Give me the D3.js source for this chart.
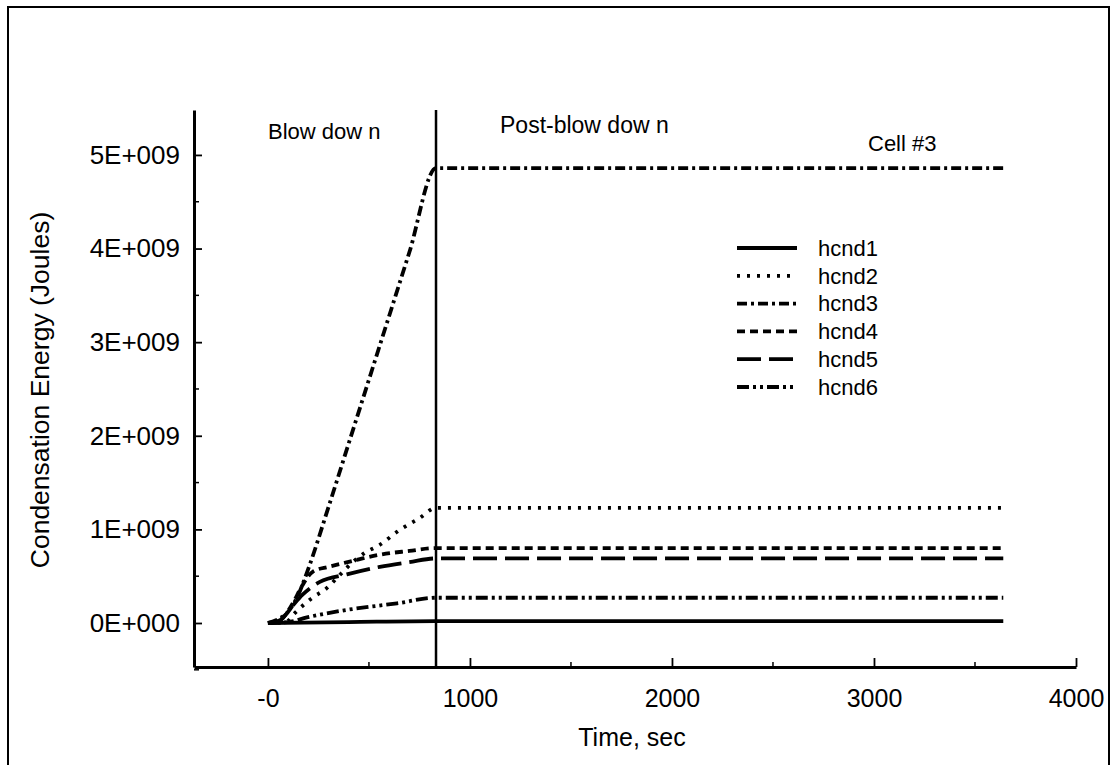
<!DOCTYPE html>
<html>
<head>
<meta charset="utf-8">
<script src="https://cdn.jsdelivr.net/npm/d3@7"></script>
<style>
  body { margin: 0; background: #fff; }
  text { font-family: "Liberation Sans", Arial, sans-serif; fill: #000; }
</style>
</head>
<body>
<script>
// time points (sec) and condensation energy (1E+009 Joules) per series
var seriesNames = ["hcnd1", "hcnd2", "hcnd3", "hcnd4", "hcnd5", "hcnd6"];
var hcnd1 = [[0, 0], [400, 0.01], [832, 0.02], [3640, 0.02]];
var hcnd2 = [[0, 0], [90, 0.01], [130, 0.1], [180, 0.2], [220, 0.27], [290, 0.37], [350, 0.5],
             [420, 0.65], [480, 0.75], [550, 0.83], [650, 0.99], [750, 1.12], [832, 1.23], [3640, 1.23]];
var hcnd3 = [[0, 0], [50, 0.04], [100, 0.12], [150, 0.3], [200, 0.58], [300, 1.24], [400, 1.92],
             [500, 2.6], [600, 3.28], [700, 3.96], [832, 4.86], [3640, 4.86]];
var hcnd4 = [[0, 0], [60, 0.03], [120, 0.2], [170, 0.4], [223, 0.55], [300, 0.6], [356, 0.63],
             [450, 0.68], [554, 0.73], [700, 0.77], [832, 0.8], [3640, 0.8]];
var hcnd5 = [[0, 0], [60, 0.03], [120, 0.18], [170, 0.3], [220, 0.39], [257, 0.44], [391, 0.52],
             [554, 0.6], [700, 0.65], [832, 0.69], [3640, 0.69]];
var hcnd6 = [[0, 0], [100, 0.01], [193, 0.06], [391, 0.14], [639, 0.21], [832, 0.27], [3640, 0.27]];
var blowdownEnd = 832;
var xTicks = [0, 1000, 2000, 3000, 4000];
var xTickLabels = ["-0", "1000", "2000", "3000", "4000"];
var yTicks = [0, 1, 2, 3, 4, 5];
var yTickLabels = ["0E+000", "1E+009", "2E+009", "3E+009", "4E+009", "5E+009"];
var dashes = ["none", "3,7", "10,4,3,4", "8,5", "24,8", "12,4,3,4,3,4"];

var allSeries = [hcnd1, hcnd2, hcnd3, hcnd4, hcnd5, hcnd6];

var width = 1113, height = 765;
var svg = d3.select('body').append('svg')
    .attr('width', width)
    .attr('height', height);

// outer frame
svg.append('rect')
    .attr('x', 8).attr('y', 7)
    .attr('width', 1101).attr('height', 780)
    .attr('fill', 'none').attr('stroke', 'black').attr('stroke-width', 2);

var xScale = d3.scaleLinear().domain([-366, 4000]).range([194, 1076]);
var yScale = d3.scaleLinear().domain([-0.47, 5.48]).range([667, 110]);

// minor ticks
var xMinor = d3.range(-0, 4000, 500).filter(function (d) { return d % 1000 !== 0; });
var yMinor = d3.range(-0.5, 5.5, 0.5).filter(function (d) { return d % 1 !== 0; });

svg.append('g').selectAll('line').data(xMinor).enter().append('line')
    .attr('x1', function (d) { return xScale(d); })
    .attr('x2', function (d) { return xScale(d); })
    .attr('y1', 667).attr('y2', 662)
    .attr('stroke', 'black').attr('stroke-width', 1.5);
svg.append('g').selectAll('line').data(yMinor).enter().append('line')
    .attr('x1', 194).attr('x2', 199)
    .attr('y1', function (d) { return yScale(d); })
    .attr('y2', function (d) { return yScale(d); })
    .attr('stroke', 'black').attr('stroke-width', 1.5);

// x axis
var xAxis = svg.append('g')
    .attr('transform', 'translate(0,667)')
    .call(d3.axisBottom(xScale).tickValues(xTicks)
        .tickFormat(function (d, i) { return xTickLabels[i]; })
        .tickSizeInner(-9).tickSizeOuter(0).tickPadding(22));
xAxis.select('.domain').attr('stroke-width', 3);
xAxis.selectAll('.tick line').attr('stroke-width', 1.8);
xAxis.selectAll('text').attr('font-size', 25).attr('font-family', '"Liberation Sans", Arial, sans-serif');

// y axis
var yAxis = svg.append('g')
    .attr('transform', 'translate(194,0)')
    .call(d3.axisLeft(yScale).tickValues(yTicks)
        .tickFormat(function (d, i) { return yTickLabels[i]; })
        .tickSizeInner(-8).tickSizeOuter(0).tickPadding(14));
yAxis.select('.domain').attr('stroke-width', 3);
yAxis.selectAll('.tick line').attr('stroke-width', 1.8);
yAxis.selectAll('text').attr('font-size', 26).attr('font-family', '"Liberation Sans", Arial, sans-serif');

// blowdown divider
svg.append('line')
    .attr('x1', xScale(blowdownEnd)).attr('x2', xScale(blowdownEnd))
    .attr('y1', yScale(5.48)).attr('y2', 667)
    .attr('stroke', 'black').attr('stroke-width', 2.5);

// curves
var line = d3.line()
    .x(function (d) { return xScale(d[0]); })
    .y(function (d) { return yScale(d[1]); })
    .curve(d3.curveMonotoneX);

svg.append('g').selectAll('path').data(allSeries).enter().append('path')
    .attr('d', function (d) { return line(d); })
    .attr('fill', 'none')
    .attr('stroke', 'black')
    .attr('stroke-width', 3.8)
    .attr('stroke-dasharray', function (d, i) { return dashes[i]; });

// legend
var legend = svg.append('g');
seriesNames.forEach(function (name, i) {
    var y = 248 + i * 27.8;
    legend.append('line')
        .attr('x1', 737).attr('x2', 797)
        .attr('y1', y).attr('y2', y)
        .attr('stroke', 'black').attr('stroke-width', 3.8)
        .attr('stroke-dasharray', dashes[i]);
    legend.append('text')
        .attr('x', 818).attr('y', y)
        .attr('dy', '0.35em')
        .attr('font-size', 22)
        .text(name);
});

// annotations
svg.append('text').attr('x', 268).attr('y', 131).attr('dy', '0.35em')
    .attr('font-size', 22).text('Blow dow n');
svg.append('text').attr('x', 500).attr('y', 125).attr('dy', '0.35em')
    .attr('font-size', 23).text('Post-blow dow n');
svg.append('text').attr('x', 868).attr('y', 143).attr('dy', '0.35em')
    .attr('font-size', 22).text('Cell #3');

// axis titles
svg.append('text')
    .attr('x', 632).attr('y', 737).attr('dy', '0.35em')
    .attr('text-anchor', 'middle').attr('font-size', 25)
    .text('Time, sec');
svg.append('text')
    .attr('transform', 'translate(40,390) rotate(-90)')
    .attr('dy', '0.35em')
    .attr('text-anchor', 'middle').attr('font-size', 26.5)
    .text('Condensation Energy (Joules)');
</script>
</body>
</html>
